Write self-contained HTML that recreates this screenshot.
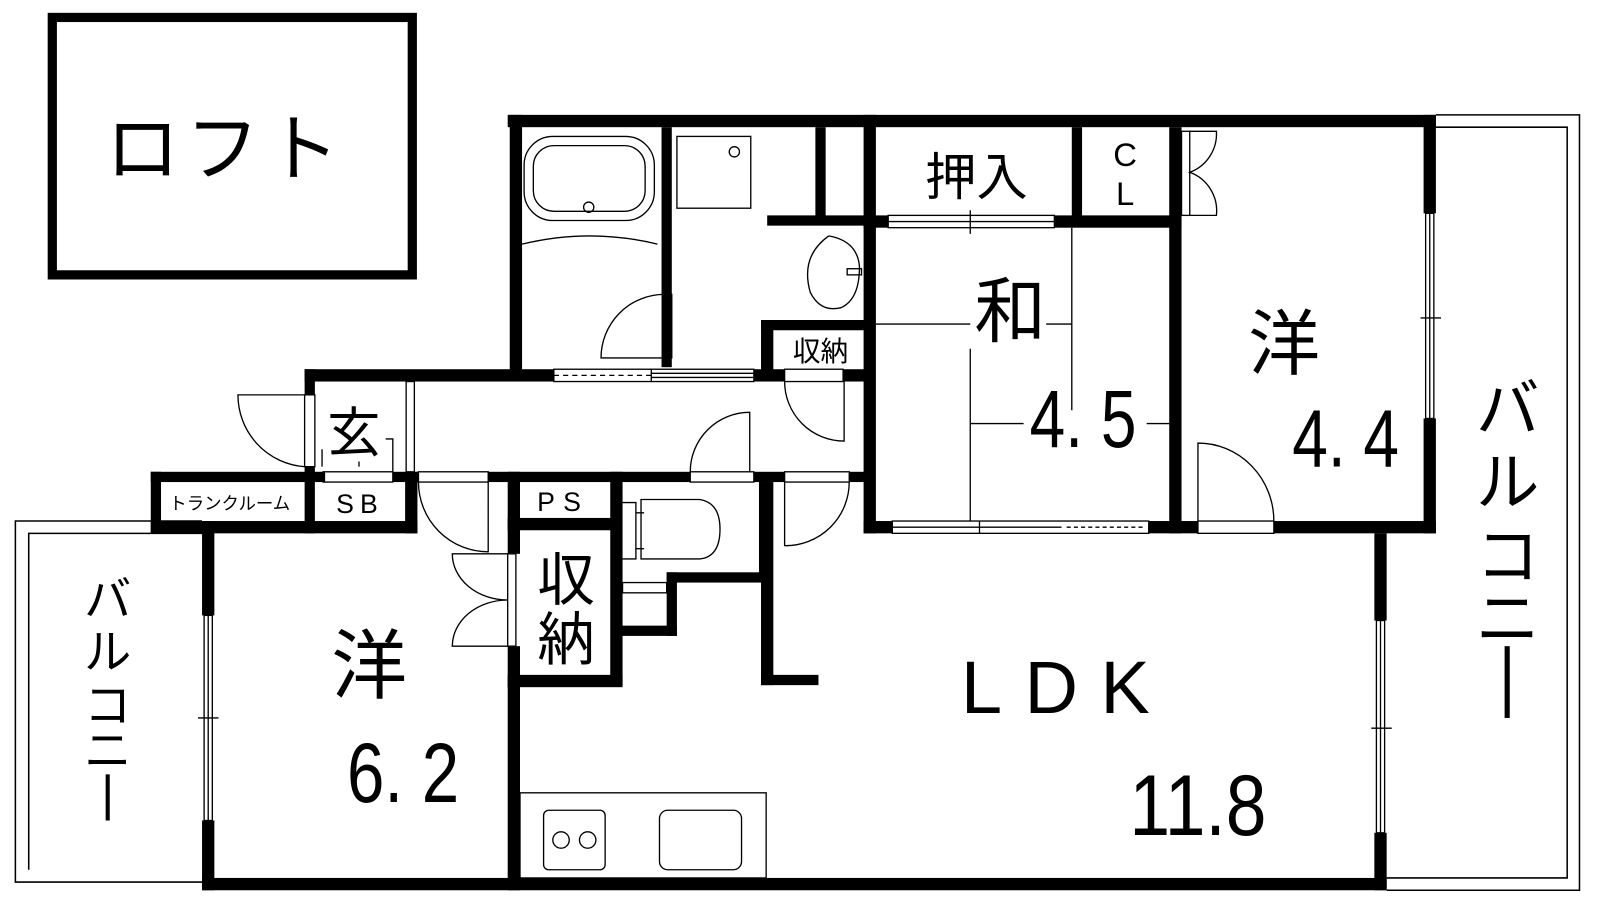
<!DOCTYPE html>
<html><head><meta charset="utf-8"><style>
html,body{margin:0;padding:0;background:#fff;}
svg{display:block;}
text{font-family:"Liberation Sans","Noto Sans CJK JP",sans-serif;fill:#000;}
</style></head><body>
<svg width="1600" height="900" viewBox="0 0 1560 877.5" xmlns="http://www.w3.org/2000/svg">
<rect width="1560" height="877.5" fill="#fff"/>
<rect x="51" y="17" width="351" height="251" fill="none" stroke="#000" stroke-width="9"/>
<text x="220" y="170" font-size="72" text-anchor="middle" letter-spacing="6">ロフト</text>

<g fill="none" stroke="#000" stroke-width="1.5">
<path d="M1400 112 H1540 V868 H1352"/>
<path d="M1400 124 H1528 V856 H1352"/>
<path d="M197 508 H15 V860 H197"/>
<path d="M197 520 H28 V848"/>
</g>

<g fill="#000">
<rect x="495" y="112" width="905" height="12"/>
<rect x="497" y="112" width="12" height="256"/>
<rect x="645" y="124" width="10" height="234"/>
<rect x="795" y="124" width="10" height="90"/>
<rect x="748" y="210" width="102" height="10"/>
<rect x="842" y="112" width="12" height="408"/>
<rect x="1045" y="124" width="10" height="90"/>
<rect x="1140" y="124" width="12" height="396"/>
<rect x="1028" y="210" width="124" height="12"/>
<rect x="842" y="210" width="24" height="12"/>
<rect x="1388" y="112" width="12" height="96"/>
<rect x="1388" y="408" width="12" height="112"/>
<rect x="842" y="508" width="28" height="12"/>
<rect x="1120" y="508" width="48" height="12"/>
<rect x="1242" y="508" width="158" height="12"/>
<rect x="742" y="312" width="12" height="58"/>
<rect x="742" y="312" width="108" height="10"/>
<rect x="297" y="360" width="243" height="12"/>
<rect x="735" y="360" width="30" height="12"/>
<rect x="822" y="360" width="30" height="12"/>
<rect x="297" y="360" width="10" height="25"/>
<rect x="297" y="455" width="10" height="15"/>
<rect x="147" y="460" width="170" height="10"/>
<rect x="383" y="460" width="25" height="10"/>
<rect x="476" y="460" width="197" height="10"/>
<rect x="735" y="460" width="30" height="10"/>
<rect x="828" y="460" width="24" height="10"/>
<rect x="147" y="460" width="10" height="60"/>
<rect x="147" y="508" width="260" height="12"/>
<rect x="297" y="460" width="10" height="60"/>
<rect x="395" y="460" width="12" height="60"/>
<rect x="197" y="508" width="12" height="92"/>
<rect x="197" y="800" width="12" height="68"/>
<rect x="197" y="856" width="1155" height="12"/>
<rect x="495" y="460" width="12" height="80"/>
<rect x="495" y="630" width="12" height="238"/>
<rect x="495" y="505" width="110" height="12"/>
<rect x="595" y="460" width="12" height="208"/>
<rect x="495" y="658" width="112" height="12"/>
<rect x="740" y="470" width="10" height="90"/>
<rect x="650" y="558" width="100" height="10"/>
<rect x="650" y="558" width="10" height="62"/>
<rect x="605" y="610" width="55" height="10"/>
<rect x="742" y="470" width="12" height="198"/>
<rect x="742" y="658" width="56" height="10"/>
<rect x="1340" y="520" width="12" height="85"/>
<rect x="1340" y="812" width="12" height="56"/>
<!-- vertical bars (ー in vertical text) -->
<rect x="1467" y="630" width="5" height="70"/>
<rect x="103" y="755" width="4" height="45"/>
</g>

<g fill="none" stroke="#000" stroke-width="1.3">
<rect x="511" y="133" width="127" height="82" rx="28"/>
<rect x="520" y="142" width="109" height="64" rx="20"/>
<circle cx="574" cy="202" r="5"/>
<path d="M509 238 Q575 222 641 238"/>
<rect x="660" y="133" width="72" height="70"/>
<circle cx="716" cy="148" r="5"/>
<path d="M586 349 A62 62 0 0 1 648 287 V349 Z"/>
<rect x="648" y="287" width="7" height="62"/>
<path d="M808 230 Q780 250 790 285 Q800 305 820 300 Q838 292 838 260 Q836 235 808 230"/>
<rect x="826" y="262" width="14" height="6"/>
<rect x="540" y="360" width="195" height="12"/>
<line x1="635" y1="360" x2="635" y2="372"/>
<line x1="540" y1="366" x2="635" y2="366" stroke-dasharray="5,4"/>
<line x1="635" y1="364" x2="735" y2="364"/><line x1="635" y1="368" x2="735" y2="368"/>
<path d="M765 372 A58 58 0 0 0 823 430 V372"/>
<rect x="765" y="360" width="57" height="12"/>
<path d="M673 460 A58 58 0 0 1 731 402 V460"/>
<rect x="673" y="460" width="62" height="10"/>
<path d="M297 385 H232 A70 70 0 0 0 297 455"/>
<rect x="297" y="385" width="10" height="70"/>
<rect x="396" y="372" width="8" height="88"/>
<path d="M314 455 V438 M376 428 H383 V460 M350 455 V450"/>
<rect x="315" y="460" width="68" height="10"/>
<rect x="408" y="460" width="68" height="10"/>
<path d="M408 470 A68 68 0 0 0 476 538 V470"/>
<rect x="765" y="460" width="63" height="10"/>
<path d="M765 470 V532 A62 62 0 0 0 828 470"/>
<rect x="495" y="540" width="8" height="90"/>
<path d="M495 540 H441 A54 45 0 0 0 495 585 M495 630 H441 A54 45 0 0 1 495 585"/>
<path d="M607 490 H620 V545 H607 M625 487 H682 Q702 490 702 516 Q702 543 682 545 H625 Z"/>
<path d="M620 500 H628 M620 535 H628"/>
<rect x="607" y="568" width="43" height="10"/>
<rect x="507" y="773" width="240" height="83"/>
<rect x="530" y="790" width="60" height="58" rx="5"/>
<circle cx="547" cy="819" r="8"/><circle cx="573" cy="819" r="8"/>
<rect x="643" y="790" width="80" height="58" rx="8"/>
<rect x="866" y="210" width="162" height="12"/>
<line x1="866" y1="216" x2="1028" y2="216"/>
<line x1="946" y1="205" x2="946" y2="228"/>
<rect x="1152" y="128" width="8" height="82"/>
<path d="M1160 128 H1186 A40 40 0 0 1 1160 168 A40 40 0 0 1 1186 210 H1160"/>
<path d="M854 316 H946 M1020 316 H1045 M1045 222 V400 M946 340 V508 M946 413 H998 M1118 413 H1140"/>
<rect x="870" y="508" width="250" height="12"/>
<line x1="870" y1="514" x2="1035" y2="514"/>
<line x1="955" y1="508" x2="955" y2="520"/>
<line x1="1040" y1="514" x2="1115" y2="514" stroke-dasharray="4,3"/>
<rect x="1168" y="508" width="74" height="12"/>
<path d="M1168 508 V432 A74 76 0 0 1 1242 508"/>
<rect x="1390" y="208" width="8" height="200"/>
<line x1="1394" y1="208" x2="1394" y2="408"/><line x1="1385" y1="310" x2="1405" y2="310"/>
<rect x="1342" y="605" width="8" height="207"/>
<line x1="1346" y1="605" x2="1346" y2="812"/><line x1="1337" y1="710" x2="1357" y2="710"/>
<rect x="199" y="600" width="8" height="200"/>
<line x1="203" y1="600" x2="203" y2="800"/><line x1="193" y1="700" x2="213" y2="700"/>
</g>

<g>
<text x="952" y="190" font-size="50" text-anchor="middle">押入</text>
<text x="1097" y="162" font-size="32" text-anchor="middle">C</text>
<text x="1097" y="200" font-size="32" text-anchor="middle">L</text>
<text x="985" y="328" font-size="70" text-anchor="middle">和</text>
<text x="1056" y="436" font-size="80" text-anchor="middle" transform="translate(1056 0) scale(0.78 1) translate(-1056 0)">4. 5</text>
<text x="1252" y="360" font-size="70" text-anchor="middle">洋</text>
<text x="1312" y="455" font-size="80" text-anchor="middle" transform="translate(1312 0) scale(0.78 1) translate(-1312 0)">4. 4</text>
<text x="800" y="352" font-size="27" text-anchor="middle">収納</text>
<text x="345" y="440" font-size="52" text-anchor="middle">玄</text>
<text x="224" y="497" font-size="17" text-anchor="middle">トランクルーム</text>
<text x="351" y="500" font-size="26" text-anchor="middle" letter-spacing="6">SB</text>
<text x="549" y="498" font-size="26" text-anchor="middle" letter-spacing="8">PS</text>
<text x="552" y="585" font-size="56" text-anchor="middle">収</text>
<text x="552" y="643" font-size="56" text-anchor="middle">納</text>
<text x="360" y="675" font-size="74" text-anchor="middle">洋</text>
<text x="393" y="782" font-size="82" text-anchor="middle" transform="translate(393 0) scale(0.8 1) translate(-393 0)">6. 2</text>
<text x="1040" y="695" font-size="72" text-anchor="middle" letter-spacing="22">LDK</text>
<text x="1168" y="814" font-size="84" text-anchor="middle" transform="translate(1168 0) scale(0.85 1) translate(-1168 0)">11.8</text>
<g font-size="62" text-anchor="middle">
<text x="1470" y="420">バ</text><text x="1470" y="492">ル</text><text x="1470" y="564">コ</text><text x="1470" y="625">ニ</text>
</g>
<g font-size="46" text-anchor="middle">
<text x="105" y="600">バ</text><text x="105" y="652">ル</text><text x="105" y="704">コ</text><text x="105" y="748">ニ</text>
</g>
</g>
</svg>
</body></html>
